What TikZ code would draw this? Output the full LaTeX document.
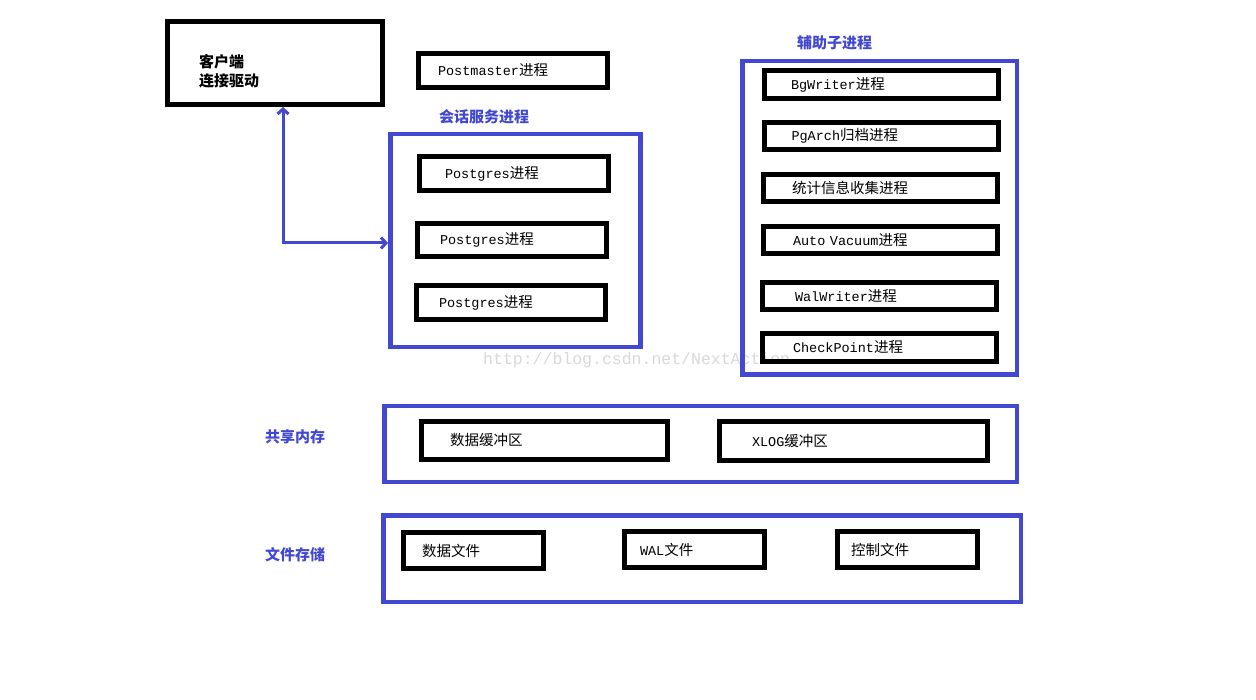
\documentclass[tikz,border=0pt]{standalone}
\usepackage{fontspec}
\setmainfont{Liberation Mono}
\newfontfamily\cjk{Noto Sans CJK SC}
\usetikzlibrary{arrows.meta}
\definecolor{bl}{RGB}{66,72,208}
\newcommand\zh[1]{{\cjk\fontsize{14.5}{16}\selectfont #1}}
\begin{document}
\begin{tikzpicture}[x=1pt,y=-1pt,
 bbox/.style={draw=black, line width=5pt, rectangle, inner ysep=0pt, anchor=north west, align=left, font=\fontsize{13.5}{15}\selectfont},
 grp/.style={draw=bl, line width=4.5pt, anchor=north west, inner sep=0pt},
 ttl/.style={text=bl, font=\cjk\bfseries\fontsize{15}{18}\selectfont, anchor=west, inner sep=0pt},
 link/.style={draw=bl, line width=3pt, {Straight Barb[length=5pt,width=11pt]}-{Straight Barb[length=5pt,width=11pt]}}]
\fill[white] (0,0) rectangle (1256,700);
\useasboundingbox (0,0) rectangle (1256,700);
% watermark
\node[anchor=west, inner sep=0pt, text=black!15, font=\fontsize{16.5}{18}\selectfont] (wm) at (483,360) {http://blog.csdn.net/NextAction};
% client
\node[bbox, minimum width=215pt, minimum height=83pt] (client) at (165,19) {};
\node[anchor=west, inner sep=0pt, align=left, font=\cjk\bfseries\fontsize{15}{19}\selectfont] (clienttext) at (199,71.5) {客户端\\连接驱动};
% postmaster
\node[bbox, minimum width=189pt, minimum height=34pt, inner xsep=19.5pt, text width=150pt] (pm) at (416,51) {Postmaster\zh{进程}};
% session group
\node[ttl] (sessiont) at (439,117) {会话服务进程};
\node[grp, minimum width=250pt, minimum height=213pt] (session) at (388,132) {};
\node[bbox, minimum width=189pt, minimum height=34pt, inner xsep=25.5pt, text width=138pt] (pg1) at (417,154) {Postgres\zh{进程}};
\node[bbox, minimum width=189pt, minimum height=33pt, inner xsep=22.5pt, text width=144pt] (pg2) at (415,221) {Postgres\zh{进程}};
\node[bbox, minimum width=189pt, minimum height=34pt, inner xsep=22.5pt, text width=144pt] (pg3) at (414,283) {Postgres\zh{进程}};
% helper group
\node[ttl] (helpert) at (797,43) {辅助子进程};
\node[grp, minimum width=274.5pt, minimum height=313.5pt] (helper) at (740,59) {};
\node[bbox, minimum width=234pt, minimum height=28pt, inner xsep=26.5pt, text width=181pt] (bg) at (762,68) {BgWriter\zh{进程}};
\node[bbox, minimum width=234pt, minimum height=27pt, inner xsep=27pt, text width=180pt] (arch) at (762,120) {PgArch\zh{归档进程}};
\node[bbox, minimum width=234pt, minimum height=27pt, inner xsep=28.5pt, text width=177pt] (stat) at (761,172) {\zh{统计信息收集进程}};
\node[bbox, minimum width=234pt, minimum height=27pt, inner xsep=29.5pt, text width=175pt] (av) at (761,224) {Auto Vacuum\zh{进程}};
\node[bbox, minimum width=234pt, minimum height=27pt, inner xsep=32.5pt, text width=169pt] (wal) at (760,280) {WalWriter\zh{进程}};
\node[bbox, minimum width=234pt, minimum height=28pt, inner xsep=30.5pt, text width=173pt] (cp) at (760,331) {CheckPoint\zh{进程}};
% shared memory
\node[ttl] (sharedt) at (265,437) {共享内存};
\node[grp, minimum width=632.5pt, minimum height=75.5pt] (shared) at (382,404) {};
\node[bbox, minimum width=246pt, minimum height=38pt, inner xsep=28.5pt, text width=189pt] (databuf) at (419,419) {\zh{数据缓冲区}};
\node[bbox, minimum width=268pt, minimum height=39pt, inner xsep=32.5pt, text width=203pt] (xlogbuf) at (717,419) {XLOG\zh{缓冲区}};
% file storage
\node[ttl] (filest) at (265,555) {文件存储};
\node[grp, minimum width=637.5pt, minimum height=86.5pt] (files) at (381,513) {};
\node[bbox, minimum width=140pt, minimum height=36pt, inner xsep=18.5pt, text width=103pt] (datafile) at (401,530) {\zh{数据文件}};
\node[bbox, minimum width=140pt, minimum height=36pt, inner xsep=15.5pt, text width=109pt] (walfile) at (622,529) {WAL\zh{文件}};
\node[bbox, minimum width=140pt, minimum height=36pt, inner xsep=13.5pt, text width=113pt] (ctlfile) at (835,529) {\zh{控制文件}};
% connector
\coordinate (bend) at (283,243);
\draw[link] (client.south -| bend) -- (bend) -- (bend -| session.west);
\end{tikzpicture}
\end{document}
